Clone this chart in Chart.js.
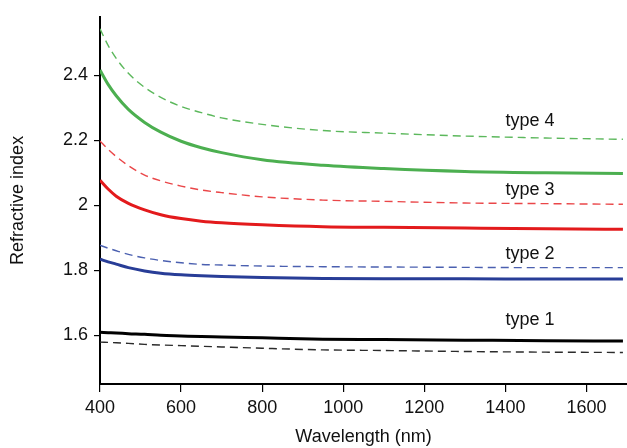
<!DOCTYPE html>
<html>
<head>
<meta charset="utf-8">
<script src="https://cdn.jsdelivr.net/npm/chart.js@4"></script>
<style>
  html, body { margin: 0; padding: 0; background: #fff; }
  #grafico { display: block; }
</style>
</head>
<body>
<canvas id="grafico" width="627" height="448"></canvas>
<script>
// wavelengths (nm) shared by every curve
const wavelengths = [400, 420, 440, 470, 510, 550, 600, 650, 700, 800, 950, 1100, 1300, 1500, 1690];

// refractive index, solid and dashed curve per type
const type1Solid  = [1.609, 1.608, 1.607, 1.605, 1.603, 1.600, 1.598, 1.596, 1.595, 1.592, 1.588, 1.587, 1.585, 1.583, 1.582];
const type1Dashed = [1.579, 1.578, 1.577, 1.575, 1.572, 1.570, 1.568, 1.566, 1.564, 1.560, 1.555, 1.553, 1.550, 1.548, 1.547];
const type2Solid  = [1.834, 1.826, 1.819, 1.808, 1.798, 1.791, 1.786, 1.783, 1.781, 1.778, 1.775, 1.774, 1.774, 1.773, 1.773];
const type2Dashed = [1.877, 1.868, 1.860, 1.849, 1.838, 1.830, 1.823, 1.818, 1.816, 1.813, 1.811, 1.810, 1.809, 1.808, 1.808];
const type3Solid  = [2.077, 2.050, 2.028, 2.006, 1.986, 1.971, 1.959, 1.951, 1.946, 1.940, 1.934, 1.932, 1.930, 1.928, 1.926];
const type3Dashed = [2.198, 2.172, 2.150, 2.122, 2.093, 2.075, 2.059, 2.047, 2.039, 2.026, 2.016, 2.012, 2.007, 2.005, 2.003];
const type4Solid  = [2.416, 2.372, 2.337, 2.295, 2.255, 2.225, 2.197, 2.177, 2.162, 2.140, 2.123, 2.113, 2.104, 2.100, 2.098];
const type4Dashed = [2.543, 2.492, 2.452, 2.406, 2.363, 2.332, 2.304, 2.285, 2.269, 2.249, 2.230, 2.222, 2.213, 2.207, 2.203];

// curve labels
const typeNames = ["type 1", "type 2", "type 3", "type 4"];
const typeLabelY = [1.646, 1.850, 2.047, 2.260];
const typeLabelX = 1400;

const xTicks = [400, 600, 800, 1000, 1200, 1400, 1600];
const yTicks = [1.6, 1.8, 2, 2.2, 2.4];

const cores = {
  t1: "#000000", t1d: "#2b2b2b",
  t2: "#283d97", t2d: "#4b60b0",
  t3: "#e31a1c", t3d: "#ea4648",
  t4: "#4caf50", t4d: "#5cb85c"
};

function pontos(valores) {
  return wavelengths.map((w, i) => ({ x: w, y: valores[i] }));
}

function curva(valores, cor, tracejada) {
  return {
    data: pontos(valores),
    borderColor: cor,
    borderWidth: tracejada ? 1.4 : 3,
    borderDash: tracejada ? [8, 5] : [],
    pointRadius: 0,
    cubicInterpolationMode: "monotone",
    fill: false
  };
}

const fonte = "'Liberation Sans', Arial, sans-serif";

const rotulosTipo = {
  id: "rotulosTipo",
  afterDatasetsDraw(chart) {
    const ctx = chart.ctx;
    const sx = chart.scales.x;
    const sy = chart.scales.y;
    ctx.save();
    ctx.font = "18px " + fonte;
    ctx.fillStyle = "#111";
    ctx.textAlign = "left";
    ctx.textBaseline = "middle";
    typeNames.forEach((nome, i) => {
      ctx.fillText(nome, sx.getPixelForValue(typeLabelX), sy.getPixelForValue(typeLabelY[i]));
    });
    ctx.restore();
  }
};

const canvas = document.getElementById("grafico");

new Chart(canvas, {
  type: "line",
  data: {
    datasets: [
      curva(type1Dashed, cores.t1d, true),
      curva(type1Solid, cores.t1, false),
      curva(type2Dashed, cores.t2d, true),
      curva(type2Solid, cores.t2, false),
      curva(type3Dashed, cores.t3d, true),
      curva(type3Solid, cores.t3, false),
      curva(type4Dashed, cores.t4d, true),
      curva(type4Solid, cores.t4, false)
    ]
  },
  options: {
    responsive: false,
    animation: false,
    layout: { padding: { top: 13, right: 0, left: 0, bottom: 0 } },
    plugins: {
      legend: { display: false },
      tooltip: { enabled: false }
    },
    scales: {
      x: {
        type: "linear",
        min: 400,
        max: 1700,
        afterFit(scale) { scale.height = 64; },
        afterBuildTicks(scale) { scale.ticks = xTicks.map(v => ({ value: v })); },
        grid: { display: true, drawOnChartArea: false, drawTicks: true, tickLength: 8, color: "#000", lineWidth: 1.2 },
        border: { display: true, color: "#000", width: 2 },
        ticks: {
          color: "#111",
          padding: 5,
          maxRotation: 0,
          font: { size: 18, family: fonte },
          callback: v => String(v)
        },
        title: {
          display: true,
          text: "Wavelength (nm)",
          color: "#111",
          font: { size: 18, family: fonte },
          padding: { top: 0, bottom: 0 }
        }
      },
      y: {
        type: "linear",
        min: 1.45,
        max: 2.58,
        afterFit(scale) { scale.width = 100; },
        afterBuildTicks(scale) { scale.ticks = yTicks.map(v => ({ value: v })); },
        grid: { display: true, drawOnChartArea: false, drawTicks: true, tickLength: 6, color: "#000", lineWidth: 1.2 },
        border: { display: true, color: "#000", width: 2 },
        ticks: {
          color: "#111",
          padding: 6,
          font: { size: 18, family: fonte },
          callback: v => String(Number(v.toFixed(1)))
        },
        title: {
          display: true,
          text: "Refractive index",
          color: "#111",
          font: { size: 18, family: fonte },
          padding: { top: 7, bottom: 0 }
        }
      }
    }
  },
  plugins: [rotulosTipo]
});
</script>
</body>
</html>
